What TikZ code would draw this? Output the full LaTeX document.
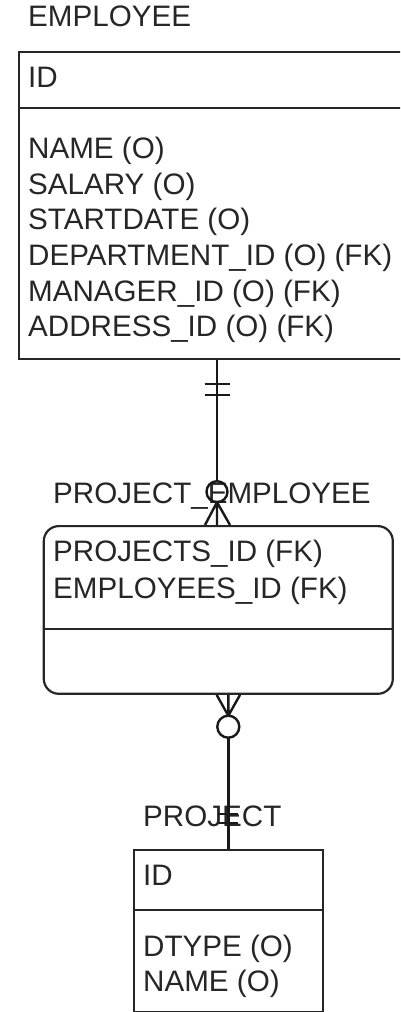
\documentclass[tikz,border=0pt]{standalone}
\usepackage{fontspec}
\setmainfont{Liberation Sans}
\usetikzlibrary{calc}
\begin{document}
\begin{tikzpicture}[x=1pt,y=-1pt,
  ink/.style={draw=black!85, line width=2.2pt},
  entity/.style={ink, inner sep=0pt, anchor=north west},
  link/.style={draw=black!90, line width=2.4pt},
  lbl/.style={anchor=base west, inner sep=0pt, text=black!85,
    font=\fontsize{29.6}{35.7}\selectfont}]
\useasboundingbox (0,0) rectangle (400,1012);
\clip (0,0) rectangle (400,1012);

% ---------- EMPLOYEE ----------
\node[lbl] (empT) at (28,26.7) {EMPLOYEE};
\node[entity, minimum width=384pt, minimum height=307.3pt] (emp) at (18,50.7) {};
\draw[ink] (18,108) -- (402,108);
\node[lbl] (empId) at (28,87.3) {ID};
\node[lbl] (empA1) at (28,158.3) {NAME (O)};
\node[lbl] (empA2) at (28,194.0) {SALARY (O)};
\node[lbl] (empA3) at (28,229.7) {STARTDATE (O)};
\node[lbl] (empA4) at (28,265.4) {DEPARTMENT\_ID (O) (FK)};
\node[lbl] (empA5) at (28,301.1) {MANAGER\_ID (O) (FK)};
\node[lbl] (empA6) at (28,336.8) {ADDRESS\_ID (O) (FK)};

% ---------- PROJECT_EMPLOYEE ----------
\node[lbl] (peT) at (53,503.3) {PROJECT\_EMPLOYEE};
\node[entity, rounded corners=15pt, minimum width=349pt, minimum height=167.7pt] (pe) at (42.7,525) {};
\draw[ink] (42.7,629) -- (391.7,629);
\node[lbl] (peA1) at (53,561.7) {PROJECTS\_ID (FK)};
\node[lbl] (peA2) at (53,598.3) {EMPLOYEES\_ID (FK)};

% ---------- PROJECT ----------
\node[lbl] (prT) at (143,826.7) {PROJECT};
\node[entity, minimum width=189pt, minimum height=161.5pt] (pr) at (133,849) {};
\draw[ink] (133,910) -- (322,910);
\node[lbl] (prId) at (143,885) {ID};
\node[lbl] (prA1) at (143,956.7) {DTYPE (O)};
\node[lbl] (prA2) at (143,991.7) {NAME (O)};

% ---------- EMPLOYEE (one) -- PROJECT_EMPLOYEE (zero or many) ----------
\coordinate (o1) at (217,491.7);
\coordinate (top1) at (emp.south -| o1);
\coordinate (bot1) at (pe.north -| o1);
\draw[link] (top1) -- ([yshift=10.5pt]o1);
\draw[link] ($(top1)+(-12.5,24)$) -- ($(top1)+(12.5,24)$);
\draw[link] ($(top1)+(-12.5,35)$) -- ($(top1)+(12.5,35)$);
\draw[link] (o1) circle[radius=10.5];
\coordinate (apex1) at ([yshift=-10.5pt]o1);
\draw[link] (apex1) -- ($(bot1)+(-12,0)$)
            (apex1) -- (bot1)
            (apex1) -- ($(bot1)+(13,0)$);

% ---------- PROJECT_EMPLOYEE (zero or many) -- PROJECT (one) ----------
\coordinate (o2) at (228.3,726.7);
\coordinate (top2) at (pe.south -| o2);
\coordinate (bot2) at (pr.north -| o2);
\coordinate (apex2) at ([yshift=11pt]o2);
\draw[link] (apex2) -- ($(top2)+(-11.6,0)$)
            (apex2) -- (top2)
            (apex2) -- ($(top2)+(11.7,0)$);
\draw[link] (o2) circle[radius=11];
\draw[link] ([yshift=-11pt]o2) -- (bot2);
\draw[link] ($(bot2)+(-10,-35)$) -- ($(bot2)+(10,-35)$);
\draw[link] ($(bot2)+(-10,-26)$) -- ($(bot2)+(10,-26)$);
\end{tikzpicture}
\end{document}
